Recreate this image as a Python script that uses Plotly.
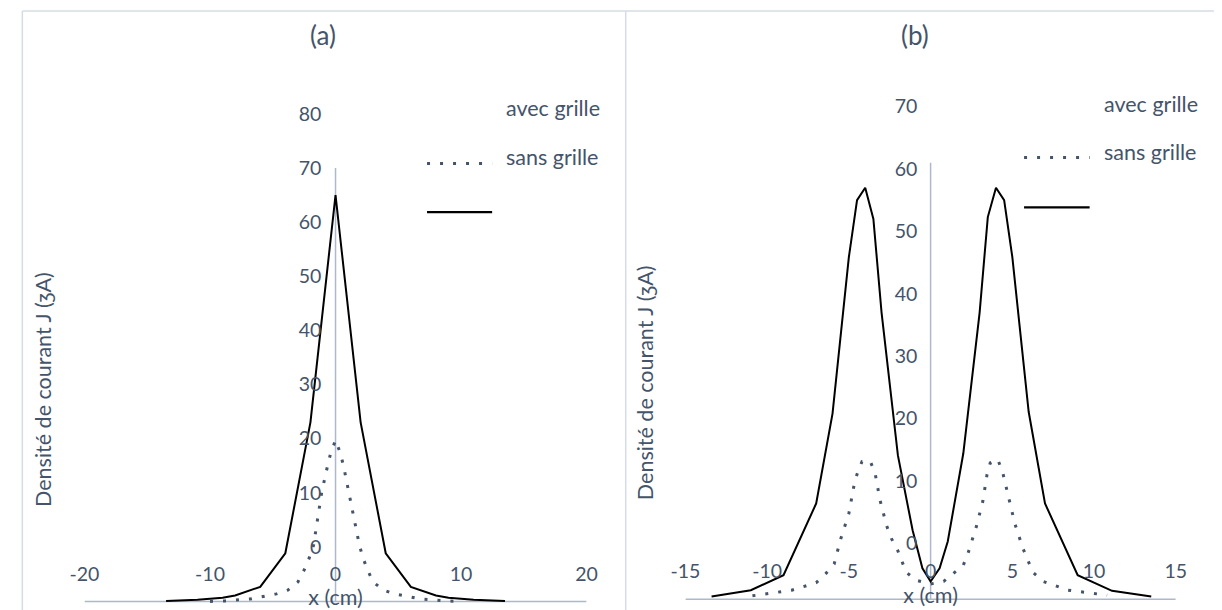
import plotly.graph_objects as go

# ---------------- data ----------------
# Panel (a)
xa_avec = [-13.5, -11, -9, -8, -6, -4, -2, 0, 2, 4, 6, 8, 9, 11, 13.5]
ya_avec = [-10.0, -9.8, -9.4, -9.0, -7.4, -1.2, 23.0, 65.0, 23.0, -1.2, -7.4, -9.0, -9.4, -9.8, -10.0]

xa_sans = [-10, -8.8, -6.8, -5.7, -4.7, -3.8, -3.0, -2.5, -2.1, -1.75, -1.4, -1.1, -0.65, -0.4, 0,
           0.4, 0.65, 1.05, 1.45, 1.9, 2.2, 2.55, 3.0, 3.8, 4.7, 5.7, 6.8, 8.8, 10]
ya_sans = [-10.1, -10.0, -9.65, -9.2, -8.7, -8.0, -6.5, -4.3, -2.1, 0.3, 5.2, 10.1, 14.8, 17.2, 19.7,
           17.2, 14.8, 10.1, 5.2, 0.3, -2.1, -4.3, -6.5, -8.0, -8.7, -9.2, -9.65, -10.0, -10.1]

# Panel (b)
xb_avec = [-13.4, -11, -9, -7, -6, -5, -4.5, -4, -3.5, -3, -2, -1.1, -0.5, 0,
           0.55, 1.05, 2, 3, 3.5, 4, 4.5, 5, 6, 7, 9, 11.1, 13.5]
yb_avec = [-8.5, -7.5, -5.1, 6.4, 20.8, 45.9, 55.0, 57.0, 52.0, 37.0, 14.1, 2.1, -4.0, -6.1,
           -4.0, 0.3, 14.4, 37.0, 52.3, 57.0, 55.0, 45.9, 21.1, 6.4, -5.1, -7.6, -8.5]

xb_sans = [-10.9, -8.5, -7.0, -6.4, -5.9, -5.5, -5.0, -4.7, -4.5, -4.2, -3.7, -3.4, -3.1, -2.7, -2.4,
           -2.0, -1.5, -0.9, 0,
           0.8, 1.4, 2.0, 2.3, 2.8, 3.2, 3.45, 3.65, 4.1, 4.4, 4.8, 5.15, 5.65, 6.25, 6.9, 8.4, 10.8]
yb_sans = [-8.4, -7.5, -6.3, -4.8, -3.3, 0.7, 4.8, 9.1, 11.1, 13.1, 13.2, 11.3, 7.0, 2.9, 0.8,
           -1.2, -4.6, -5.9, -6.5,
           -6.1, -4.8, -3.5, -1.5, 2.7, 6.8, 11.0, 12.9, 13.5, 11.5, 7.2, 3.2, -0.8, -4.6, -6.1, -7.5, -8.3]

# tick labels
xa_ticks = [-20, -10, 0, 10, 20]
ya_ticks = [0, 10, 20, 30, 40, 50, 60, 70, 80]
xb_ticks = [-15, -10, -5, 0, 5, 10, 15]
yb_ticks = [0, 10, 20, 30, 40, 50, 60, 70]

# axis-line extents (data units)
xa_line = [-20, 20]
ya_line = [-10.1, 70]
xb_line = [-15, 15]
yb_line = [-8.96, 61]

panel_titles = ["(a)", "(b)"]
legend_labels = ["avec grille", "sans grille"]
x_title = "x (cm)"
y_title = "Densité de courant J (ȝA)"

# ---------------- style ----------------
W, H = 1222, 610
TEXT = "#44546A"
AXIS = "#ADB9CA"
FRAME = "#D6DCE5"
FONT = "Lato"
TICK_SIZE = 19.5
LABEL_SIZE = 21.5
TITLE_SIZE = 26


def px(x):
    return x / W


def py(y):
    return (H - y) / H


fig = go.Figure()

dot_dash = "3px,10px"

fig.add_trace(go.Scatter(x=xa_sans, y=ya_sans, mode="lines", name=legend_labels[1],
                         line=dict(color=TEXT, width=3, dash=dot_dash),
                         xaxis="x", yaxis="y", showlegend=False, hoverinfo="skip"))
fig.add_trace(go.Scatter(x=xa_avec, y=ya_avec, mode="lines", name=legend_labels[0],
                         line=dict(color="black", width=2),
                         xaxis="x", yaxis="y", showlegend=False, hoverinfo="skip"))
fig.add_trace(go.Scatter(x=xb_sans, y=yb_sans, mode="lines", name=legend_labels[1],
                         line=dict(color=TEXT, width=3, dash=dot_dash),
                         xaxis="x2", yaxis="y2", showlegend=False, hoverinfo="skip"))
fig.add_trace(go.Scatter(x=xb_avec, y=yb_avec, mode="lines", name=legend_labels[0],
                         line=dict(color="black", width=2),
                         xaxis="x2", yaxis="y2", showlegend=False, hoverinfo="skip"))

tickfont = dict(family=FONT, size=TICK_SIZE, color=TEXT)

common_x = dict(showgrid=False, zeroline=False, showline=False, ticks="",
                tickfont=tickfont, anchor="free", fixedrange=True)
common_y = dict(showgrid=False, zeroline=False, showline=False, ticks="",
                tickfont=tickfont, anchor="free", side="left", fixedrange=True)

fig.update_layout(
    width=W, height=H,
    margin=dict(l=0, r=0, t=0, b=0),
    paper_bgcolor="white", plot_bgcolor="rgba(0,0,0,0)",
    showlegend=False,
    xaxis=dict(common_x, domain=[px(71), px(584)], range=[-20, 20],
               tickvals=xa_ticks, ticktext=[str(v) for v in xa_ticks],
               position=py(560),
               title=dict(text=x_title, standoff=4, font=dict(family=FONT, size=LABEL_SIZE, color=TEXT))),
    yaxis=dict(common_y, domain=[py(609.03), py(102.26)], range=[-11.5, 82],
               tickvals=ya_ticks, ticktext=[str(v) for v in ya_ticks],
               position=px(313)),
    xaxis2=dict(common_x, domain=[px(685), px(1186)], range=[-15, 15],
                tickvals=xb_ticks, ticktext=[str(v) for v in xb_ticks],
                position=py(557),
                title=dict(text=x_title, standoff=4, font=dict(family=FONT, size=LABEL_SIZE, color=TEXT))),
    yaxis2=dict(common_y, domain=[py(608.9), py(74.55)], range=[-10.5, 75],
                tickvals=yb_ticks, ticktext=[str(v) for v in yb_ticks],
                position=px(922)),
)

shapes = []
# axis lines in data coordinates
shapes.append(dict(type="line", xref="x", yref="y", x0=xa_line[0], x1=xa_line[1],
                   y0=ya_line[0], y1=ya_line[0], line=dict(color=AXIS, width=1.5), layer="below"))
shapes.append(dict(type="line", xref="x", yref="y", x0=0, x1=0,
                   y0=ya_line[0], y1=ya_line[1], line=dict(color=AXIS, width=1.5), layer="below"))
shapes.append(dict(type="line", xref="x2", yref="y2", x0=xb_line[0], x1=xb_line[1],
                   y0=yb_line[0], y1=yb_line[0], line=dict(color=AXIS, width=1.5), layer="below"))
shapes.append(dict(type="line", xref="x2", yref="y2", x0=0, x1=0,
                   y0=yb_line[0], y1=yb_line[1], line=dict(color=AXIS, width=1.5), layer="below"))
# chart frames
shapes.append(dict(type="line", xref="paper", yref="paper", x0=px(7.5), x1=px(7.5), y0=py(10), y1=py(615),
                   line=dict(color=FRAME, width=1.5)))
shapes.append(dict(type="line", xref="paper", yref="paper", x0=px(7.5), x1=px(1225), y0=py(10), y1=py(10),
                   line=dict(color=FRAME, width=1.5)))
shapes.append(dict(type="line", xref="paper", yref="paper", x0=px(624), x1=px(624), y0=py(10), y1=py(615),
                   line=dict(color=FRAME, width=1.5)))
# legend samples
for (x0, x1, yd, ys) in [(421, 487.5, 162.7, 211.5), (1031, 1098, 156.7, 206.7)]:
    shapes.append(dict(type="line", xref="paper", yref="paper", x0=px(x0), x1=px(x1), y0=py(yd), y1=py(yd),
                       line=dict(color=TEXT, width=3, dash=dot_dash)))
    shapes.append(dict(type="line", xref="paper", yref="paper", x0=px(x0), x1=px(x1), y0=py(ys), y1=py(ys),
                       line=dict(color="black", width=2.3)))

annotations = []
for title, cx in zip(panel_titles, [314.7, 919.6]):
    annotations.append(dict(text=title, xref="paper", yref="paper", x=px(cx), y=py(34),
                            xanchor="center", yanchor="middle", showarrow=False,
                            font=dict(family=FONT, size=TITLE_SIZE, color=TEXT)))
for (lx, y1, y2) in [(499.4, 107, 156.2), (1110.6, 103.3, 151.7)]:
    annotations.append(dict(text=legend_labels[0], xref="paper", yref="paper", x=px(lx), y=py(y1),
                            xanchor="left", yanchor="middle", showarrow=False,
                            font=dict(family=FONT, size=LABEL_SIZE, color=TEXT)))
    annotations.append(dict(text=legend_labels[1], xref="paper", yref="paper", x=px(lx), y=py(y2),
                            xanchor="left", yanchor="middle", showarrow=False,
                            font=dict(family=FONT, size=LABEL_SIZE, color=TEXT)))
for (tx, ty) in [(29.2, 389), (644, 382.5)]:
    annotations.append(dict(text=y_title, xref="paper", yref="paper", x=px(tx), y=py(ty),
                            xanchor="center", yanchor="middle", textangle=-90, showarrow=False,
                            font=dict(family=FONT, size=LABEL_SIZE, color=TEXT)))

fig.update_layout(shapes=shapes, annotations=annotations)

# remove the browser's default 8px body margin so the figure fills the window exactly
fig.write_html("out.html", config={"displayModeBar": False},
               post_script="document.body.style.margin='0px';document.body.style.overflow='hidden';")
